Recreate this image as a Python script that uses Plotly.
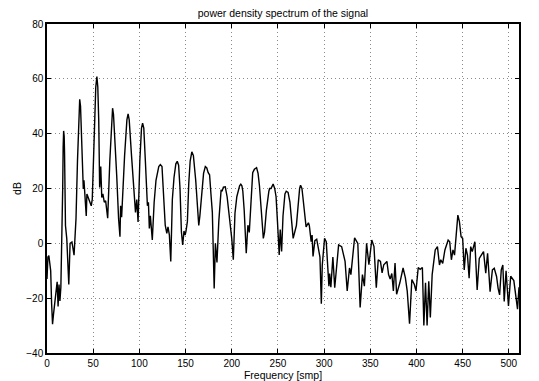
import plotly.graph_objects as go

freq = [0, 1, 2, 3, 4, 5, 6, 7, 8, 9, 10, 11, 12, 13, 14, 15, 16, 17, 17.5, 18, 18.6, 19, 20, 21.4, 23.6, 25, 27, 29.3, 31.4,
        33, 34.5, 35.4, 36.3, 37.5, 38.6, 39.3, 40, 41.4, 42.5, 43.2, 45, 47.9, 49, 51, 52.8, 54, 55, 56, 57, 58.2, 59.3,
        60.5, 62, 63.5, 65.7, 68, 70, 71, 72, 74, 75.5, 77.5, 79, 79.7, 80.8, 84, 86.5, 87.8, 89, 91.5, 94, 95.8, 97.2,
        98.6, 100.5, 102.3, 103.5, 104.8, 106.5, 108.7, 109.8, 110.8, 111.9, 114, 116, 118, 121, 122.7, 124.5, 126,
        128, 129.7, 131, 132.5, 134, 135.7, 137.5, 139.5, 141, 142.5, 144, 145.5, 146.9, 148.3, 149.5, 150.5, 152,
        153.5, 155, 156.8, 158.5, 161, 162.5, 164.3, 165.5, 167.5, 169.5, 171.4, 173, 174.5, 176, 177.5, 179, 181,
        182.3, 184, 186, 188.5, 189.5, 191, 193, 195, 197, 198.5, 200, 201.7, 203.5, 205.5, 207, 208.5, 209.8, 211,
        212, 213.5, 215.7, 217.5, 219, 220.5, 222.7, 224.5, 226.9, 228.5, 230, 232, 234.2, 235.5, 237.5, 240.2, 241,
        242.5, 243.5, 244.8, 246.5, 248, 249.5, 251.4, 252.5, 254, 255.5, 257.6, 259, 261, 263, 265, 266.5, 270, 272,
        273.5, 274.5, 276, 277, 279, 280.5, 283, 284, 286, 287, 288, 290, 292, 294, 295.5, 297, 298, 300.5,
        302.3, 305.2, 306, 307.3, 309.5, 311.5, 315.7, 319, 322.7, 325, 327.5, 329, 333, 336.5, 339, 341.5,
        343.6, 346, 348.5, 351.6, 354, 356.5, 358.6, 361, 362.8, 364.6, 368, 369.8, 371.5, 373.3, 375, 376.8,
        378.5, 382, 385.5, 388, 390, 392.5, 395, 397.7, 399.5, 401.9, 404, 406.4, 408, 409.8, 411.5, 413.3,
        415, 417, 420.3, 422.7, 424.9, 426.3, 428.4, 430.8, 434.3, 436, 437.8, 439.5, 441.2, 443, 444.8, 446.5,
        448.3, 450, 451.7, 453.5, 455.2, 457, 458.7, 460.4, 463.2, 465.7, 468, 470.2, 472.6, 475, 477, 479.7,
        482.2, 484.2, 486.7, 488.4, 490, 491.8, 493.5, 495, 497, 499.6, 502, 505.4, 509.4, 511]

db = [-13, -5, -4.5, -9, -10, -22, -29.5, -26, -22, -20, -17, -14, -23, -15, -21, -16, -2, 20, 35, 41, 39, 33, 6.5, 1.7, -15, 0, 0.5, -4.3, 9,
      30, 48, 52.5, 50, 38, 23.4, 19.8, 23, 15, 10, 18, 16.5, 13.7, 16, 38, 57, 60.8, 57, 45, 20.4, 28, 16.7,
      18, 15, 15.5, 9.2, 30, 46, 49.3, 47, 35, 24.5, 9, 2.4, 13.7, 9.5, 32, 45, 47.2, 45, 32, 18, 11.3, 16,
      7.8, 30, 42, 43.8, 42, 30, 13.7, 15, 5.4, 10, 1.2, 15, 23, 28, 28.7, 28, 20,
      6.6, 3.6, 6, 3, -6.6, 16, 24, 29, 29.9, 28.5, 20, 4.2, -0.6, 4.5, 3, 4.5, 8,
      22, 30, 33.4, 32, 23, 15, 6.5, 10, 19, 25.5, 28, 27.5, 25.8, 25, 18, 11.3, -16.5,
      0, -7, 8, 19.5, 19, 20.5, 20.6, 17, 11, 6, 1.8, -6, 11, 17, 19.2, 21, 21.6, 21,
      19, 12, -3.6, 6.6, 4, 15, 25.8, 27, 27.6, 25.5, 21, 12, 1.8, 4, 12, 19, 20,
      20, 21, 21.6, 20, 17, 8, -4.2, 5, -3, 10, 18, 19, 18.6, 15, 8, 1.8, 6.5, 15,
      20, 21.2, 20, 17, 10, 6, 7.5, 6.5, 0.6, 3, -4.8, 1, 1.5, -1.5, -5, -22, -8, 1.8,
      0.6, -15.6, -11, -16, -5, -16.2, -0.6, -1.2, -6.6, -17.4, -9, -11.4, 2, 0, -23.4, -11.4,
      -15.6, 0, -7.8, 1.2, -1.2, -16.2, -6, -6.6, -10.8, -7.8, -6.6, -11.4, -13, -11, -17.4, -7.2,
      -18.6, -14.4, -9, -12.6, -17.4, -29.3, -13.2, -15, -17.4, -8.8, -9.5, -8.8, -30, -14.4, -30, -13.8,
      -27, -11.4, -2.4, -1.2, -7.9, -6, -7.3, -2.4, 1.2, 0.6, -6, -2.4, -4.3, 3, 10.3, 7.9,
      2.4, 1.8, -9.7, -1.8, -4.3, -12.7, -1.2, -3, 0.6, -17, -5.5, -4.3, -3, -10.9, -3.6, -17.6,
      -9.7, -9.1, -12.1, -16.4, -18.8, -9.7, -7.9, -21.2, -10, -22.8, -12, -13.6, -24, -16]

x_ticks = [0, 50, 100, 150, 200, 250, 300, 350, 400, 450, 500]
y_ticks = [-40, -20, 0, 20, 40, 60, 80]

FONT = "Liberation Sans, Arial"

fig = go.Figure()
fig.add_trace(go.Scatter(x=freq, y=db, mode="lines",
                         line=dict(color="black", width=1.4), showlegend=False))

axis_common = dict(showline=True, linecolor="black", linewidth=1.5, mirror="ticks",
                   ticks="inside", ticklen=4, tickcolor="black", tickwidth=1,
                   showgrid=True, gridcolor="#8a8a8a", griddash="1px,3px", gridwidth=1,
                   zeroline=False, automargin=False,
                   tickfont=dict(family=FONT, size=10, color="black"))

fig.update_xaxes(range=[0, 511], tickvals=x_ticks, **axis_common,
                 title=dict(text="Frequency [smp]", font=dict(family=FONT, size=10.5, color="black"),
                            standoff=1))
fig.update_yaxes(range=[-40, 80], tickvals=y_ticks, **axis_common,
                 title=dict(text="dB", font=dict(family=FONT, size=10.5, color="black"),
                            standoff=3))

fig.update_layout(
    width=539, height=381,
    margin=dict(l=47, r=20, t=24, b=28),
    paper_bgcolor="white", plot_bgcolor="white",
    title=dict(text="power density spectrum of the signal", x=0.525, xanchor="center",
               y=1 - 13 / 381, yanchor="middle", yref="container",
               font=dict(family=FONT, size=10.5, color="black")),
)

fig.write_html("out.html")
